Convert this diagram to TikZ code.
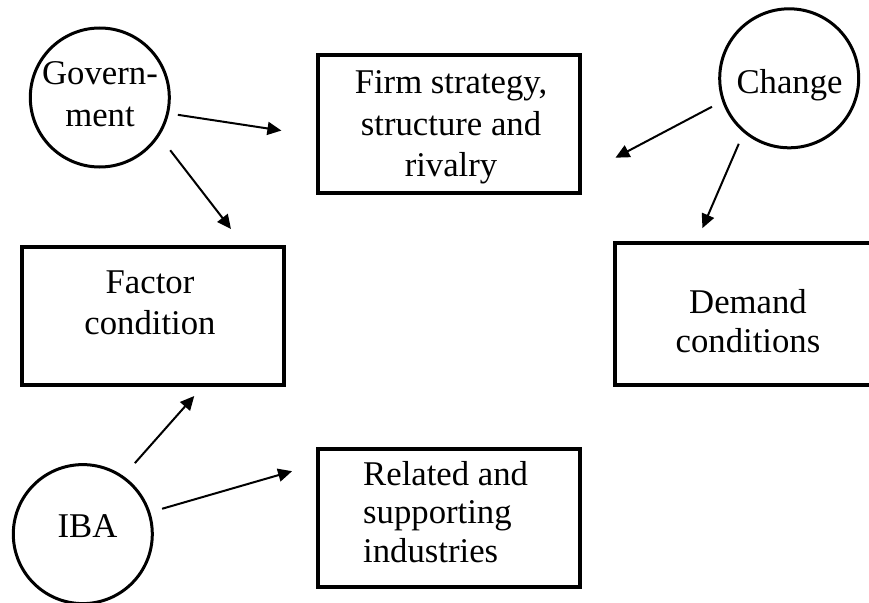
\documentclass[tikz,border=0pt]{standalone}
\usepackage{fontspec}
\setmainfont{Liberation Serif}
\usetikzlibrary{arrows.meta}

\begin{document}
\begin{tikzpicture}[x=1pt,y=-1pt,
    box/.style={draw,line width=4pt,minimum width=262pt,minimum height=138pt,inner sep=0pt},
    ring/.style={draw,circle,line width=3pt,minimum size=139pt,inner sep=0pt},
    txt/.style={align=center,inner sep=0pt,font=\fontsize{34.7}{41.5}\selectfont},
    arr/.style={-{Triangle[length=14pt,width=13pt]},line width=2pt}]

    \useasboundingbox (0,0) rectangle (869,602);

    % boxes
    \node[box] (firm) at (449.2,124.2) {};
    \node[box] (factor) at (152.5,316) {};
    \node[box,minimum height=141.7pt] (demand) at (746,313.9) {};
    \node[box] (related) at (449,518) {};

    % circles
    \node[ring] (gov) at (99.8,97.5) {};
    \node[ring] (change) at (789.2,78.3) {};
    \node[ring] (iba) at (82.8,534.1) {};

    % texts
    \node[txt] (firmtxt) at (451,127.4) {Firm strategy,\\structure and\\rivalry};
    \node[txt] (factortxt) at (150,303) {Factor\\condition};
    \node[txt,font=\fontsize{34.7}{39}\selectfont] (demandtxt) at (748,321) {Demand\\conditions};
    \node[txt,align=left,anchor=west,font=\fontsize{34.7}{38.5}\selectfont] (relatedtxt) at (363,511.7) {Related and\\supporting\\industries};
    \node[txt] (govtxt) at (100,94.3) {Govern-\\ment};
    \node[txt] (changetxt) at (789.5,84.9) {Change};
    \node[txt] (ibatxt) at (87.5,526.5) {IBA};

    % arrows
    \draw[arr,shorten <=9pt,shorten >=35.2pt] (gov.-13.1) -- (firm.185.8);
    \draw[arr,shorten <=17.8pt,shorten >=20.3pt] (gov.-33.8) -- (factor.38);
    \draw[arr,shorten <=11.4pt,shorten >=37.6pt] (change.199.5) -- (firm.-21.1);
    \draw[arr,shorten <=12.1pt,shorten >=14.1pt] (change.-130.7) -- (demand.124.2);
    \draw[arr,shorten <=17.1pt,shorten >=12pt] (iba.55) -- (factor.-55.2);
    \draw[arr,shorten <=12.2pt,shorten >=24.9pt] (iba.18.7) -- (related.158.4);
\end{tikzpicture}
\end{document}
